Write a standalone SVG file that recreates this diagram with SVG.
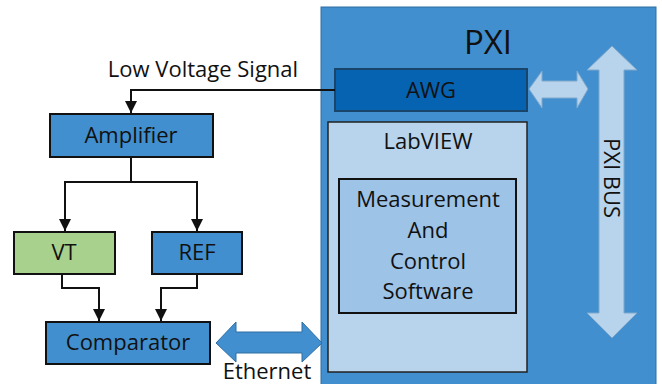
<svg xmlns="http://www.w3.org/2000/svg" width="662" height="384" viewBox="0 0 662 384">
<defs>
<style>
text{font-family:"Open Sans","Liberation Sans",sans-serif;fill:#111;text-anchor:middle;font-size:22px}
.box{stroke:#111;stroke-width:2}
.mid{fill:#418FCF}
.wire{fill:none;stroke:#111;stroke-width:2}
</style>
<marker id="ah" viewBox="0 0 10 10" refX="10" refY="5" markerWidth="12" markerHeight="12" markerUnits="userSpaceOnUse" orient="auto">
<path d="M0,0 L10,5 L0,10 z" fill="#111"/>
</marker>
</defs>
<rect width="662" height="384" fill="#fff"/>
<g id="pxi">
<rect x="321" y="7" width="335" height="378" fill="#418FCF" stroke="#2E6FA3" stroke-width="1"/>
<text x="488" y="54" style="font-size:33px">PXI</text>
</g>
<g id="pxibus">
<path d="M612,46 L637,70 L624,70 L624,313 L637,313 L612,338 L587,313 L599,313 L599,70 L587,70 Z" fill="#B7D4EC" stroke="#7FA8CC" stroke-width="1"/>
<text x="0" y="0" transform="translate(604,178) rotate(90)">PXI BUS</text>
</g>
<g id="awg">
<rect x="335" y="69" width="192" height="42" fill="#0563B1" stroke="#1A456B" stroke-width="2"/>
<text x="431" y="98">AWG</text>
</g>
<g id="labview">
<rect x="328" y="122" width="199" height="250" fill="#B7D4EC" stroke="#222" stroke-width="1.5"/>
<text x="428" y="149">LabVIEW</text>
</g>
<g id="software">
<rect x="339" y="179" width="177" height="134" fill="#9DC3E6" stroke="#111" stroke-width="2"/>
<text x="428" y="207">Measurement</text>
<text x="428" y="238">And</text>
<text x="428" y="269">Control</text>
<text x="428" y="299">Software</text>
</g>
<g id="amplifier">
<rect class="box mid" x="50" y="114" width="163" height="43"/>
<text x="131" y="143">Amplifier</text>
</g>
<g id="vt">
<rect class="box" x="14" y="232" width="101" height="42" fill="#A9D18E"/>
<text x="64" y="260">VT</text>
</g>
<g id="ref">
<rect class="box mid" x="152" y="232" width="90" height="42"/>
<text x="197" y="260">REF</text>
</g>
<g id="comparator">
<rect class="box mid" x="46" y="322" width="164" height="42"/>
<text x="128" y="350">Comparator</text>
</g>
<g id="connectors">
<path class="wire" d="M335,90 L131,90 L131,113" marker-end="url(#ah)"/>
<path class="wire" d="M131,157 L131,182 L65,182 L65,231" marker-end="url(#ah)"/>
<path class="wire" d="M131,182 L197,182 L197,231" marker-end="url(#ah)"/>
<path class="wire" d="M62,274 L62,288 L99,288 L99,321" marker-end="url(#ah)"/>
<path class="wire" d="M197,274 L197,288 L161,288 L161,321" marker-end="url(#ah)"/>
<path d="M529,89 L542,71 L542,81 L577,81 L577,71 L588,89 L577,108 L577,98 L542,98 L542,108 Z" fill="#B7D4EC" stroke="#7FA8CC" stroke-width="1"/>
<path d="M216,343 L236,322 L236,332 L302,332 L302,322 L322,343 L302,362 L302,353 L236,353 L236,362 Z" fill="#418FCF" stroke="#2E6FA3" stroke-width="1"/>
<text x="203" y="77">Low Voltage Signal</text>
<text x="267" y="379">Ethernet</text>
</g>
</svg>
